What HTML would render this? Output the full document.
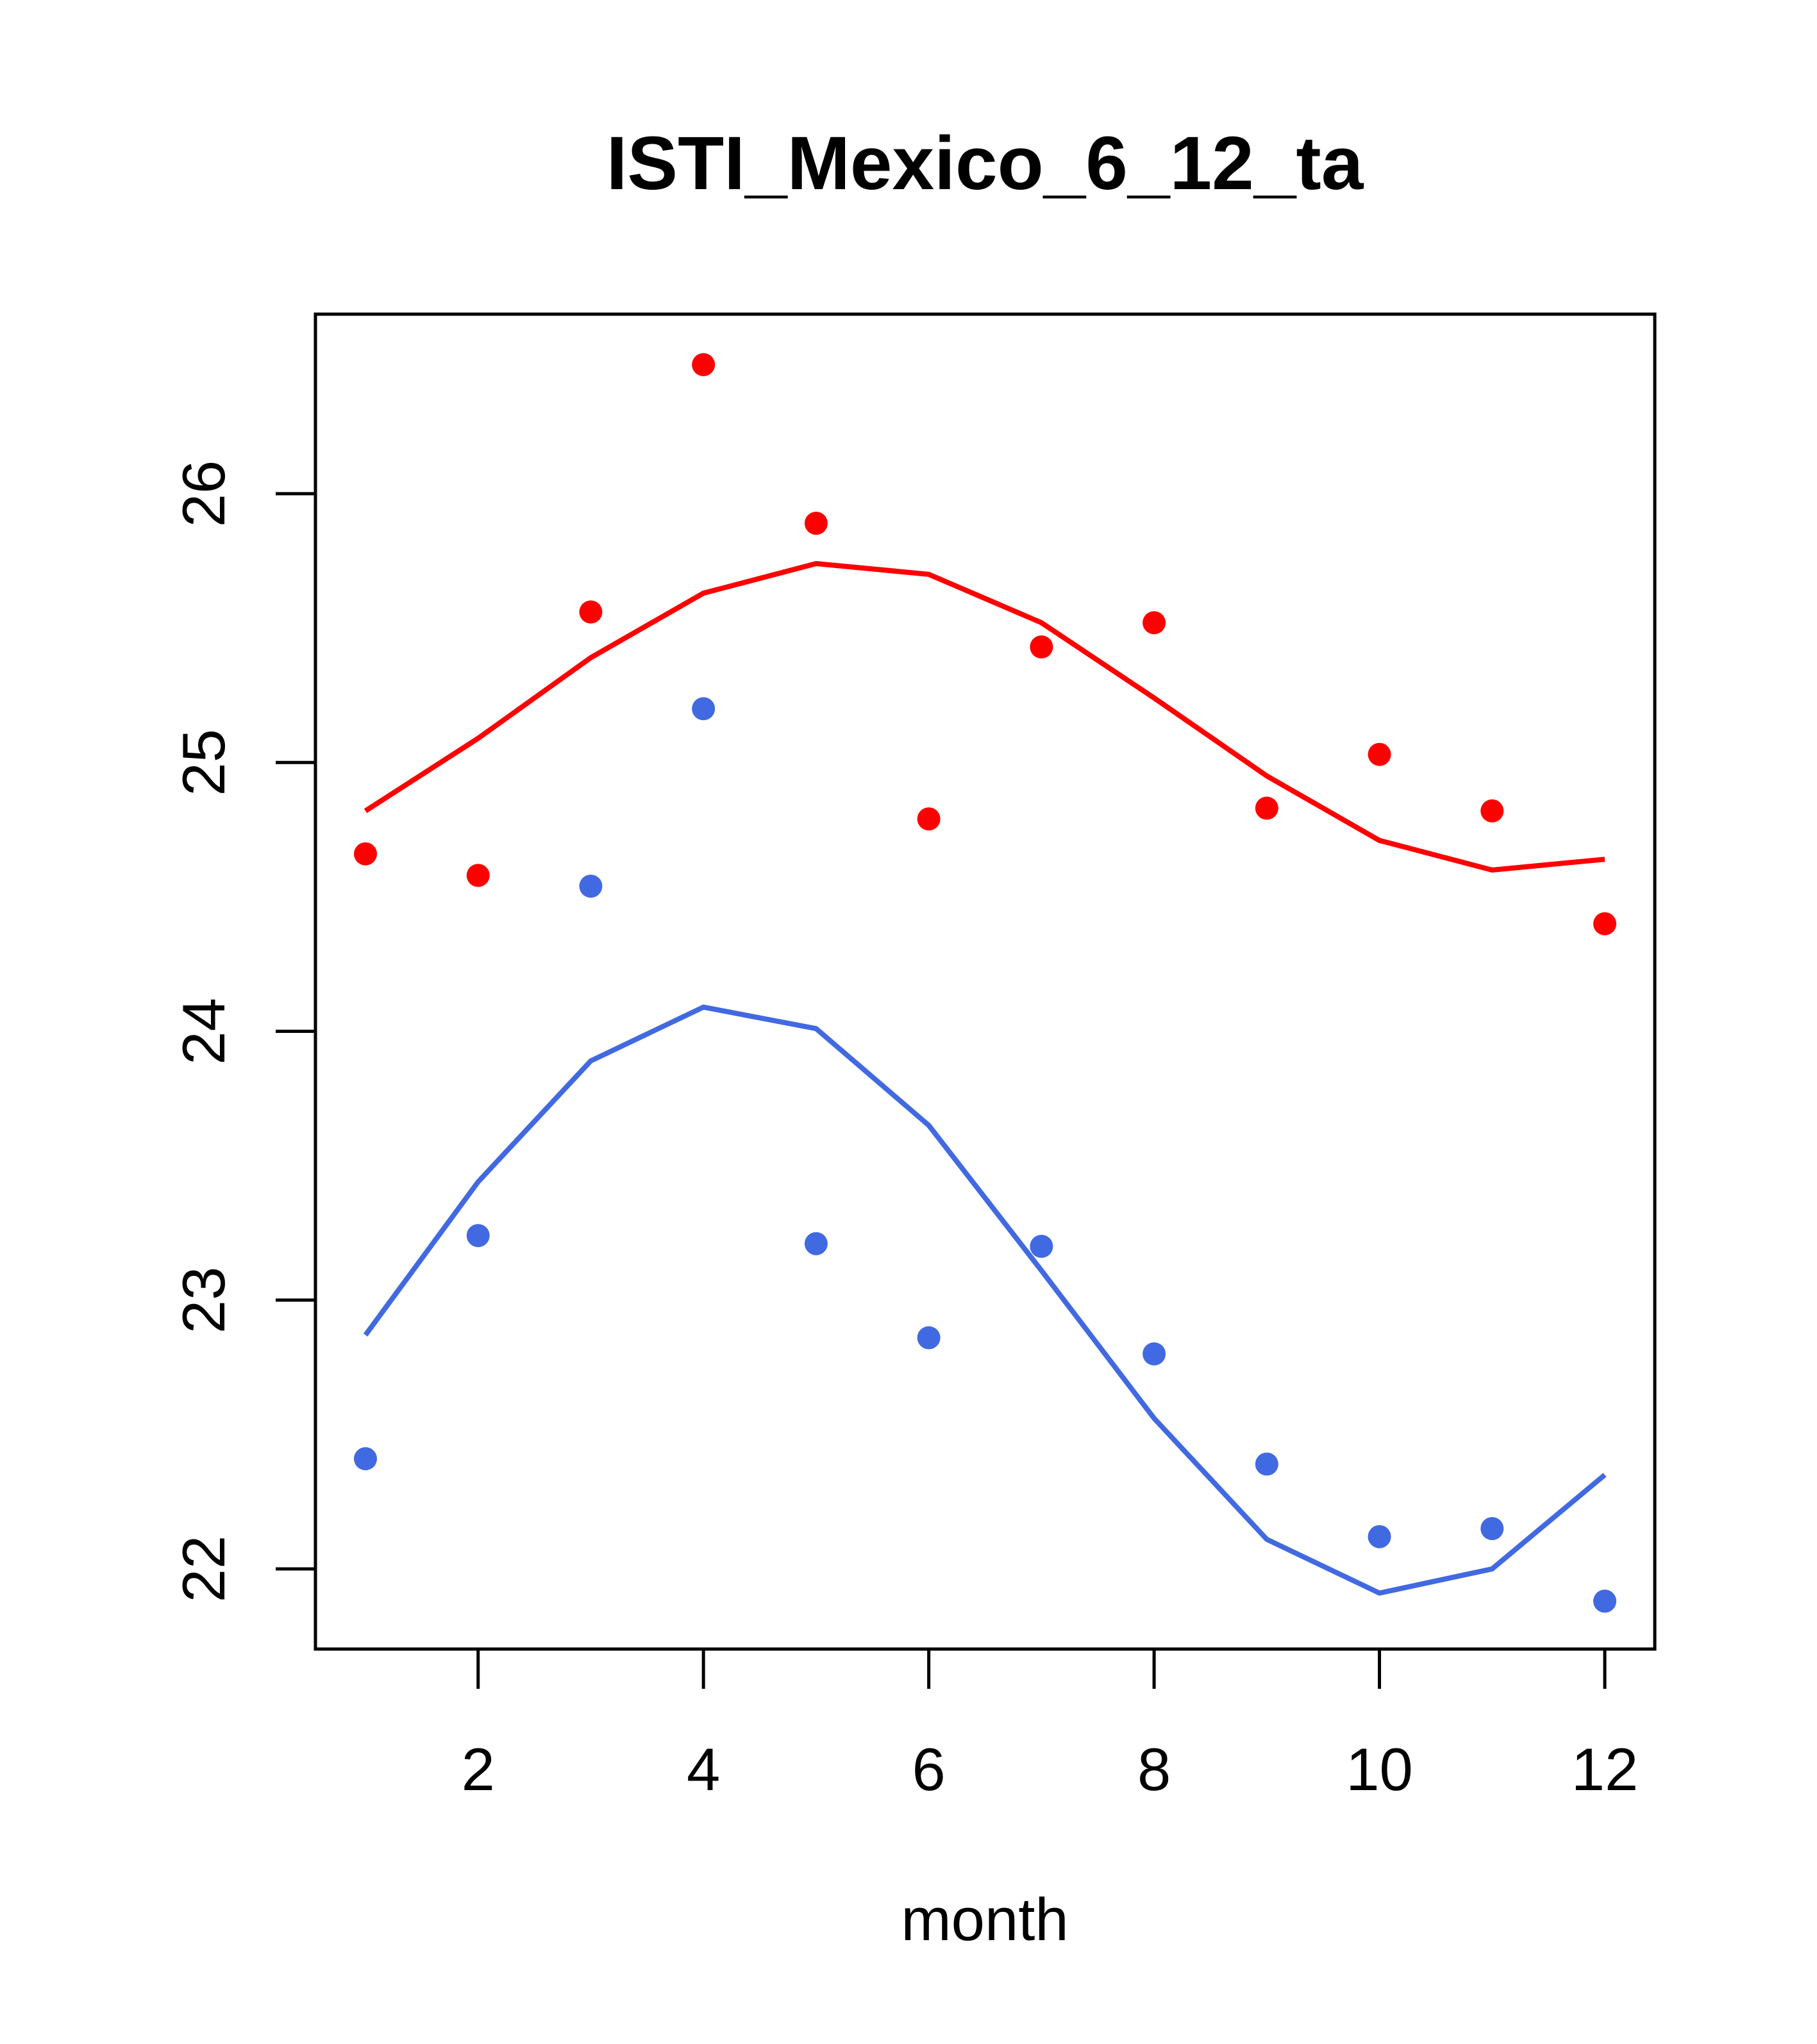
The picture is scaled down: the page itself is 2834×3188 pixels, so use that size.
<!DOCTYPE html>
<html><head><meta charset="utf-8"><style>html,body{margin:0;padding:0;background:#fff}svg{display:block}</style></head>
<body>
<svg id="chart" width="2834" height="3188" viewBox="0 0 2834 3188" xmlns="http://www.w3.org/2000/svg" font-family="Liberation Sans, Arial, sans-serif">
<text x="1536" y="295" font-size="118" font-weight="bold" text-anchor="middle">ISTI_Mexico_6_12_ta</text>
<rect x="492" y="490" width="2089" height="2082" fill="none" stroke="#000" stroke-width="5"/>
<g id="xaxis"></g>
<g id="yaxis"></g>
<text x="1536" y="3026" font-size="94" text-anchor="middle">month</text>
<g id="marks"></g>
</svg>
<script>
const months=[1,2,3,4,5,6,7,8,9,10,11,12];
const xTicks=[2,4,6,8,10,12];
const yTicks=[22,23,24,25,26];
const redPoints=[24.66,24.58,25.56,26.48,25.89,24.79,25.43,25.52,24.83,25.03,24.82,24.40];
const redLine=[24.82,25.09,25.39,25.63,25.74,25.70,25.52,25.24,24.95,24.71,24.60,24.64];
const bluePoints=[22.41,23.24,24.54,25.20,23.21,22.86,23.20,22.80,22.39,22.12,22.15,21.88];
const blueLine=[22.87,23.44,23.89,24.09,24.01,23.65,23.11,22.56,22.11,21.91,22.00,22.35];
const NS='http://www.w3.org/2000/svg';
const X=m=>570+(m-1)*(2503-570)/11;
const Y=v=>2447-(v-22)*(2447-770)/4;
function mk(t,a,p){const e=document.createElementNS(NS,t);for(const k in a)e.setAttribute(k,a[k]);p.appendChild(e);return e;}
const xa=document.getElementById('xaxis'),ya=document.getElementById('yaxis'),mg=document.getElementById('marks');
mk('line',{x1:X(2),x2:X(12),y1:2572,y2:2572,stroke:'#000','stroke-width':5},xa);
xTicks.forEach(t=>{
 const l=mk('line',{x1:X(t),x2:X(t),y1:2572,y2:2634,stroke:'#000','stroke-width':5},xa);
 
 
 const tx=mk('text',{x:X(t),y:2792,'font-size':94,'text-anchor':'middle'},xa);tx.textContent=t;
 
 
});
mk('line',{x1:492,x2:492,y1:Y(22),y2:Y(26),stroke:'#000','stroke-width':5},ya);
yTicks.forEach(t=>{
 const l=mk('line',{x1:430,x2:492,y1:Y(t),y2:Y(t),stroke:'#000','stroke-width':5},ya);
 
 
 const tx=mk('text',{x:0,y:0,'font-size':94,'text-anchor':'middle',transform:`translate(350,${Y(t)}) rotate(-90)`},ya);tx.textContent=t;
 
 
});
function series(line,pts,color,name){
 const pl=mk('polyline',{points:months.map((m,i)=>X(m)+','+Y(line[i])).join(' '),fill:'none',stroke:color,'stroke-width':8},mg);
 
 
 months.forEach((m,i)=>{const c=mk('circle',{cx:X(m),cy:Y(pts[i]),r:18,fill:color},mg);
  
  });
}
series(redLine,redPoints,'#ff0000','red');
series(blueLine,bluePoints,'#4169e1','blue');
</script>
</body></html>
